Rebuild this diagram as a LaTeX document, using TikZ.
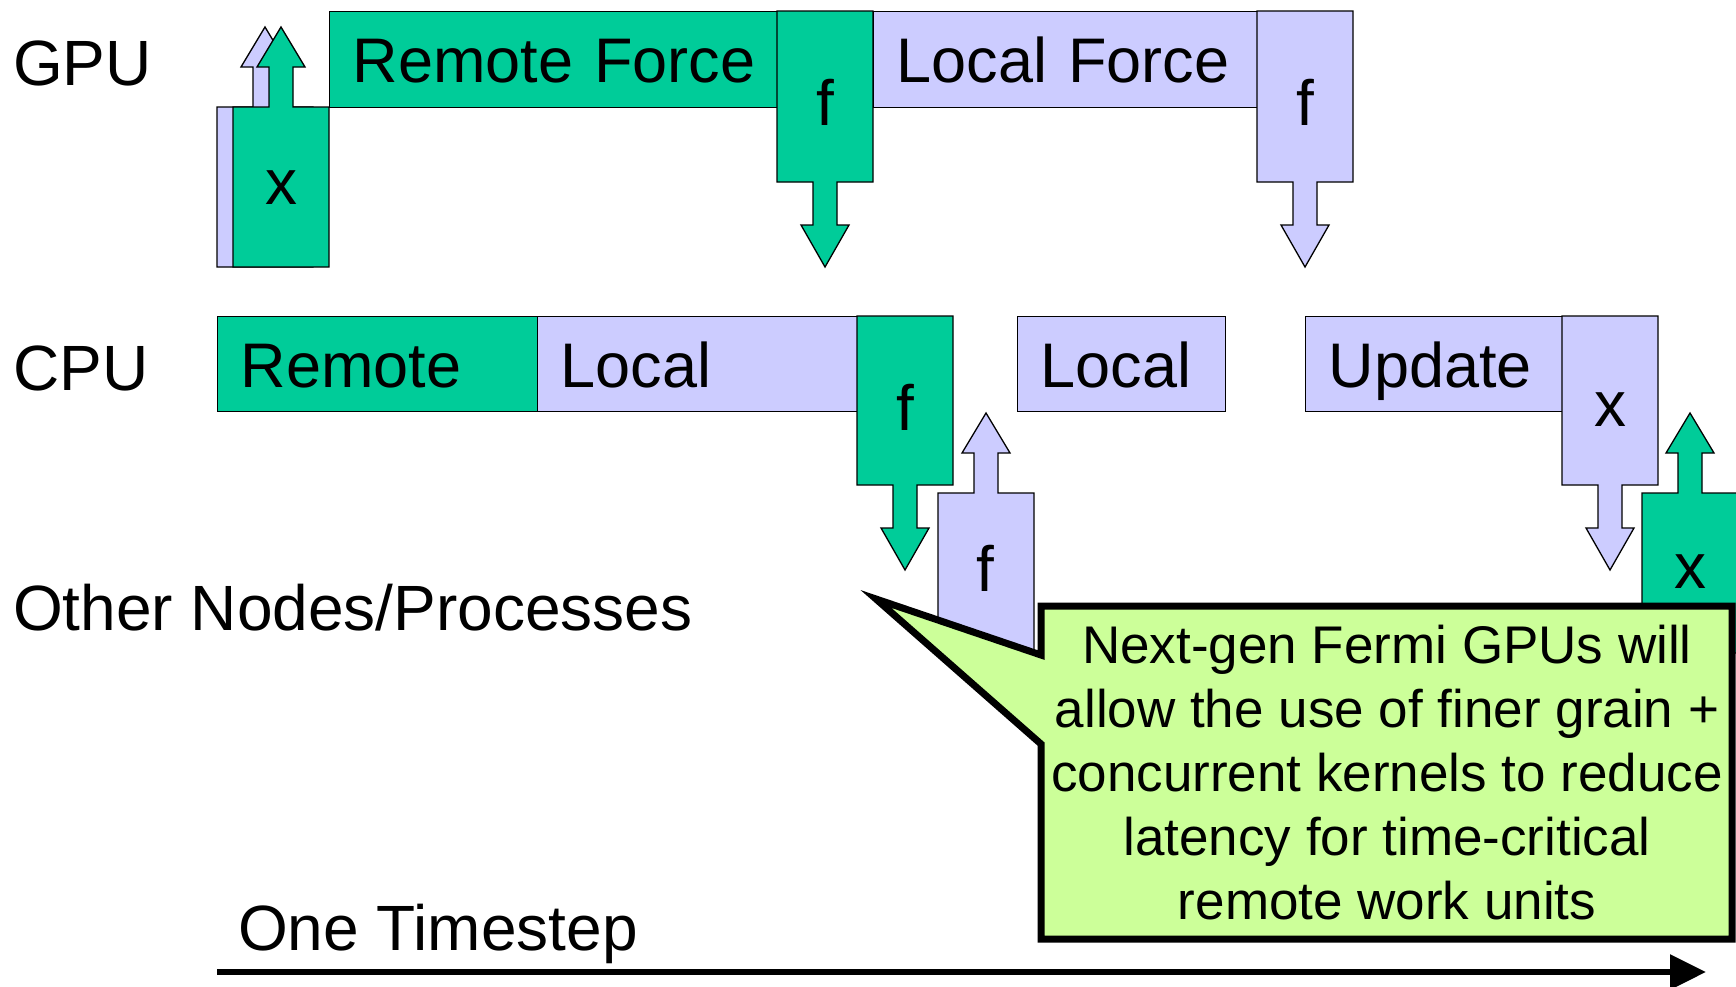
\documentclass[tikz,border=0pt]{standalone}
\usepackage{fontspec}
\setmainfont{Liberation Sans}
\usetikzlibrary{arrows.meta}
\definecolor{grn}{HTML}{00CC99}
\definecolor{lav}{HTML}{CCCCFF}
\definecolor{lime}{HTML}{CCFF99}
\begin{document}
\begin{tikzpicture}[x=1pt,y=-1pt,line join=miter,>=stealth]
	\tikzset{
		lbl/.style={anchor=base west,inner sep=0pt,font=\fontsize{64}{77}\selectfont},
		task/.style={draw,line width=1.3pt,anchor=north west,minimum height=96pt,inner xsep=23pt,inner ysep=0pt,
			align=left,text height=46pt,text depth=0pt,font=\fontsize{63}{76}\selectfont},
		tag/.style={inner sep=0pt,font=\fontsize{64}{77}\selectfont},
		note/.style={inner sep=0pt,align=center,font=\fontsize{53}{64}\selectfont},
		% box with a transfer arrow going down / up
		pics/dnbox/.style={code={
			\draw[line width=1.3pt,pic actions] (0,0) -- (96,0) -- (96,#1) -- (60,#1) -- (60,{#1+43}) -- (72,{#1+43})
			-- (48,{#1+85}) -- (24,{#1+43}) -- (36,{#1+43}) -- (36,#1) -- (0,#1) -- cycle;}},
		pics/upbox/.style={code={
			\draw[line width=1.3pt,pic actions] (0,#1) -- (0,0) -- (36,0) -- (36,-40) -- (24,-40) -- (48,-80)
			-- (72,-40) -- (60,-40) -- (60,0) -- (96,0) -- (96,#1) -- cycle;}}
	}
	\useasboundingbox (0,0) rectangle (1736,986);
	% row labels
	\node[lbl] (gpu) at (13,85) {GPU};
	\node[lbl] (cpu) at (13,390) {CPU};
	\node[lbl] (other) at (13,630) {Other Nodes/Processes};
	% GPU row
	\pic[fill=lav] at (217,107) {upbox=160};
	\pic[fill=grn] at (233,107) {upbox=160};
	\node[tag] (gx) at (281,188) {x};
	\node[task,fill=grn,text width=402pt] (rforce) at (329,11) {\mbox{Remote Force}};
	\pic[fill=grn] at (777,11) {dnbox=171};
	\node[tag] (gf1) at (825,102) {f};
	\node[task,fill=lav,text width=338pt] (lforce) at (873,11) {\mbox{Local Force}};
	\pic[fill=lav] at (1257,11) {dnbox=171};
	\node[tag] (gf2) at (1305,102) {f};
	% CPU row
	\node[task,fill=grn,text width=274pt,minimum height=95pt] (cremote) at (217,316) {Remote};
	\node[task,fill=lav,text width=274pt,minimum height=95pt] (clocal) at (537,316) {Local};
	\pic[fill=grn] at (857,316) {dnbox=169};
	\node[tag] (cf) at (905,407) {f};
	\node[task,fill=lav,text width=162pt,minimum height=95pt] (clocal2) at (1017,316) {Local};
	\node[task,fill=lav,text width=211pt,minimum height=95pt] (update) at (1305,316) {Update};
	\pic[fill=lav] at (1562,316) {dnbox=169};
	\node[tag] (cx) at (1610,410) {x};
	% other nodes
	\pic[fill=lav] at (938,493) {upbox=159};
	\node[tag] (of) at (985,568) {f};
	\pic[fill=grn] at (1642,493) {upbox=160};
	\node[tag] (ox) at (1690,572) {x};
	% callout
	\draw[line width=7pt,fill=lime] (1041,606) -- (1732,606) -- (1732,939) -- (1041,939) -- (1041,744)
		-- (876,599) -- (1041,655) -- cycle;
	\node[note] (fermi) at (1387,773) {Next-gen Fermi GPUs will\\allow the use of finer grain +\\concurrent kernels to reduce\\latency for time-critical\\remote work units};
	% time axis
	\node[lbl] (tstep) at (238,950) {One Timestep};
	\coordinate (t0) at (217,972);
	\coordinate (t1) at (1706,972);
	\draw[line width=6pt,-{Triangle[length=36pt,width=34pt]}] (t0) -- (t1);
\end{tikzpicture}
\end{document}
